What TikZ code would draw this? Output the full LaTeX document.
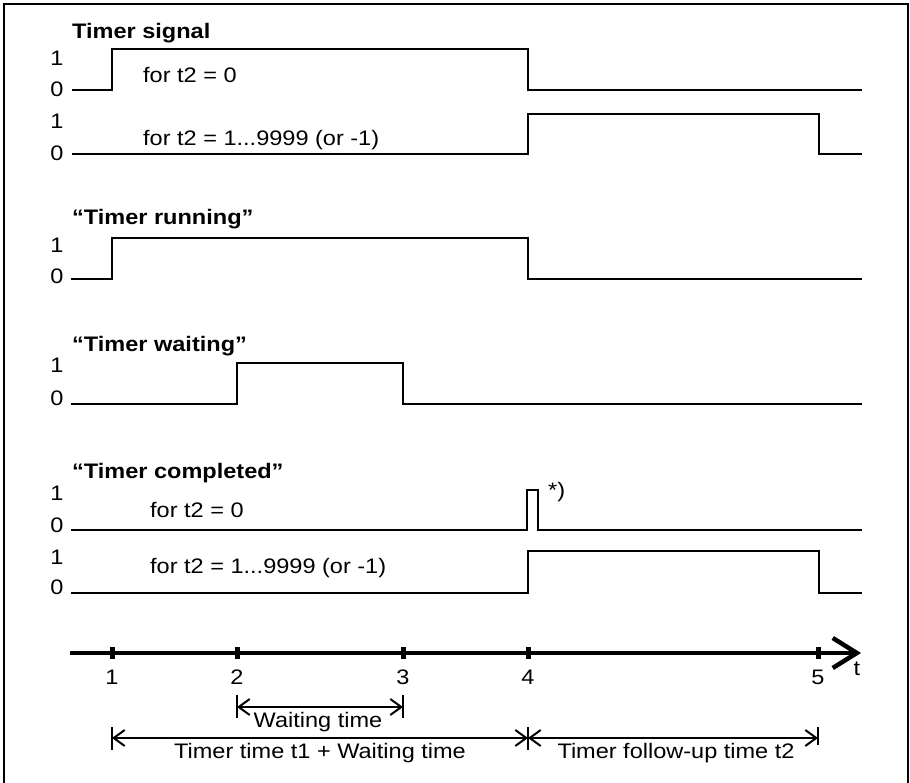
\documentclass[tikz,border=0pt]{standalone}
\usepackage{fontspec}
\setmainfont{Liberation Sans}[FakeStretch=1.12]
\usepackage{tikz}
\usetikzlibrary{arrows.meta,positioning}
\tikzset{
  sig/.style={line width=2.6pt,line join=miter},
  lvl/.style={font=\fontsize{21}{25}\selectfont,inner sep=0pt},
  ttl/.style={lvl,font=\fontsize{21}{25}\selectfont\bfseries,anchor=base west},
  lbl/.style={lvl,anchor=base west},
  dim/.style={line width=2pt,
              {Straight Barb[length=11pt,width=16pt]}-{Straight Barb[length=11pt,width=16pt]}},
  barline/.style={line width=2pt},
  taxis/.style={line width=4.5pt,-{Straight Barb[length=24pt,width=30pt]}},
  tickmark/.style={line width=5pt},
}

\begin{document}
\begin{tikzpicture}[x=1pt,y=-1pt]
\useasboundingbox (0,0) rectangle (910,783);
\draw[line width=2pt] (4,783) -- (4,4) -- (908,4) -- (908,783);

% Timer signal
\node[ttl] (tsig) at (72,39) {Timer signal};
\node[lvl] (s1h) at (57,58)  {1};
\node[lvl] (s1l) at (57,89)  {0};
\node[lvl] (s2h) at (57,121) {1};
\node[lvl] (s2l) at (57,153) {0};
\node[lbl] (s1txt) at (143,83)  {for t2 = 0};
\node[lbl] (s2txt) at (143,146) {for t2 = 1...9999 (or -1)};
\draw[sig] (72,90) -- (112,90) -- (112,49) -- (528,49) -- (528,90) -- (862,90);
\draw[sig] (72,154) -- (528,154) -- (528,114) -- (819,114) -- (819,154) -- (862,154);

% Timer running
\node[ttl] (trun) at (72,225) {“Timer running”};
\node[lvl] (rh) at (57,245) {1};
\node[lvl] (rl) at (57,276) {0};
\draw[sig] (71,279) -- (112,279) -- (112,238) -- (528,238) -- (528,279) -- (862,279);

% Timer waiting
\node[ttl] (twait) at (72,352) {“Timer waiting”};
\node[lvl] (wh) at (57,365) {1};
\node[lvl] (wl) at (57,398) {0};
\draw[sig] (71,404) -- (237,404) -- (237,363) -- (403,363) -- (403,404) -- (862,404);

% Timer completed
\node[ttl] (tcomp) at (72,478) {“Timer completed”};
\node[lvl] (c1h) at (57,493) {1};
\node[lvl] (c1l) at (57,525) {0};
\node[lvl] (c2h) at (57,557) {1};
\node[lvl] (c2l) at (57,587) {0};
\node[lbl] (c1txt) at (150,517) {for t2 = 0};
\node[lbl] (c2txt) at (150,573) {for t2 = 1...9999 (or -1)};
\node[lbl] (note) at (548,497) {*)};
\draw[sig] (71,530) -- (527,530) -- (527,490) -- (538,490) -- (538,530) -- (862,530);
\draw[sig] (71,593) -- (528,593) -- (528,551) -- (819,551) -- (819,593) -- (862,593);

% time axis
\coordinate (t0) at (70,653);
\coordinate (tend) at (861,653);
\draw[taxis] (t0) -- (tend);
\node[lvl] (tlab) at (857,669) {t};
\foreach \i/\x in {1/112,2/237,3/403,4/528,5/818}{
  \coordinate (t\i) at (\x,653);
  \draw[tickmark] (\x,647) -- (\x,659);
  \node[lvl] (n\i) at (\x,677) {\i};
}

% durations
\coordinate (w2) at (237,707);
\coordinate (w3) at (403,707);
\coordinate (a1) at (112,738);
\coordinate (a4) at (528,738);
\coordinate (a5) at (818,738);
\draw[barline] (w2) ++(0,-12) -- ++(0,23);
\draw[barline] (w3) ++(0,-12) -- ++(0,23);
\draw[barline] (a1) ++(0,-11) -- ++(0,23);
\draw[barline] (a4) ++(0,-11) -- ++(0,23);
\draw[barline] (a5) ++(0,-11) -- ++(0,18);
\draw[dim] (w2) -- (w3);
\draw[dim] (a1) -- (a4);
\draw[dim] (a4) -- (a5);
\node[lvl,anchor=base] (wtxt) at (318,727) {Waiting time};
\node[lvl,anchor=base] (ttxt) at (320,758) {Timer time t1 + Waiting time};
\node[lvl,anchor=base] (ftxt) at (676,758) {Timer follow-up time t2};
\end{tikzpicture}
\end{document}
